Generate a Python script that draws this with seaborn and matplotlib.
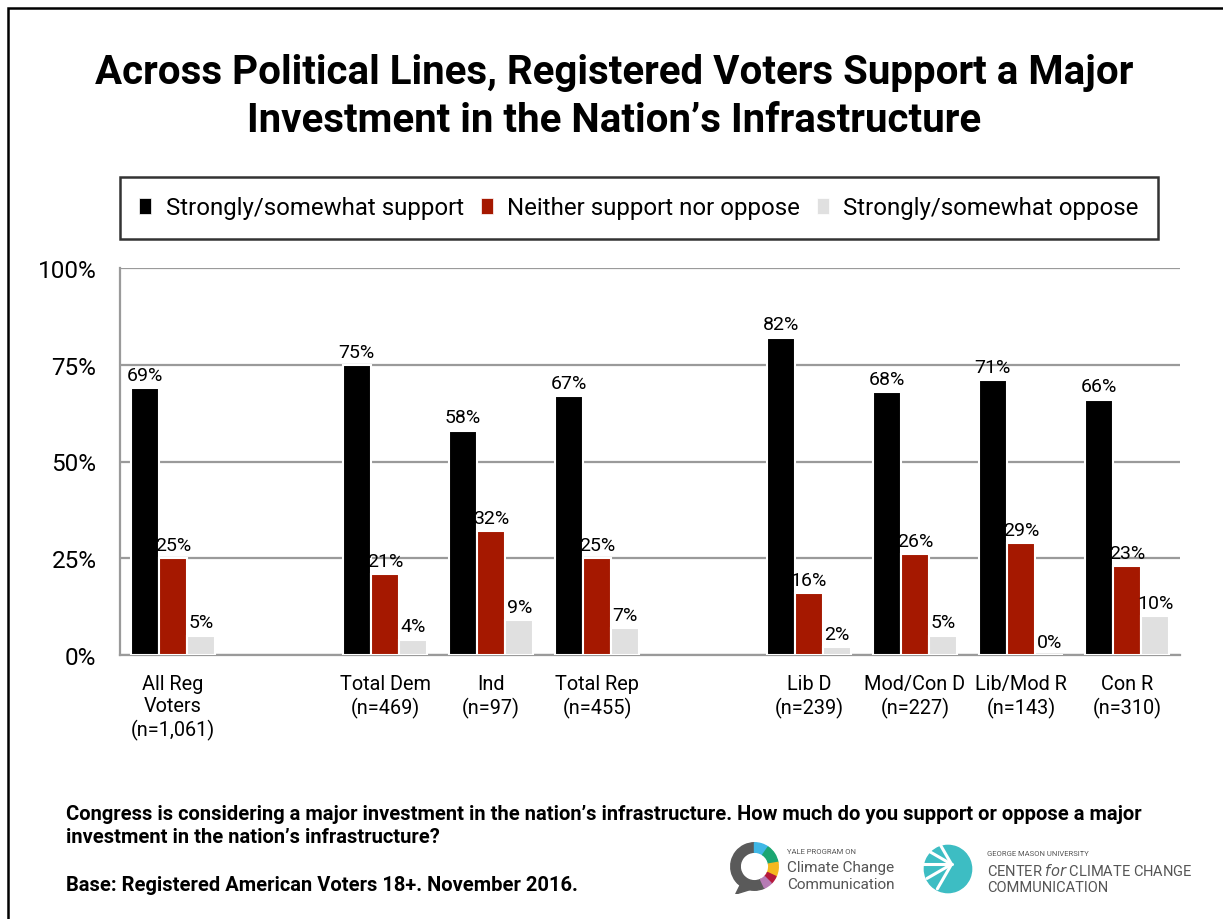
import numpy as np
import pandas as pd
import seaborn as sns
import matplotlib.pyplot as plt
from matplotlib.patches import Rectangle, Wedge, Polygon, Patch

groups = ["All Reg\nVoters\n(n=1,061)", "Total Dem\n(n=469)", "Ind\n(n=97)", "Total Rep\n(n=455)",
          "Lib D\n(n=239)", "Mod/Con D\n(n=227)", "Lib/Mod R\n(n=143)", "Con R\n(n=310)"]
slots = [groups[0], " ", groups[1], groups[2], groups[3], "  ", groups[4], groups[5], groups[6], groups[7]]
responses = ["Strongly/somewhat support", "Neither support nor oppose", "Strongly/somewhat oppose"]
support = [69, 75, 58, 67, 82, 68, 71, 66]
neither = [25, 21, 32, 25, 16, 26, 29, 23]
oppose = [5, 4, 9, 7, 2, 5, 0, 10]
colors = ["#000000", "#A51800", "#E0E0E0"]

df = pd.DataFrame({
    "group": groups * 3,
    "response": np.repeat(responses, len(groups)),
    "value": support + neither + oppose,
})

sns.set_style("white")
plt.rcParams["font.family"] = ["Roboto", "DejaVu Sans"]
plt.rcParams["text.color"] = "black"
plt.rcParams["xtick.color"] = "black"
plt.rcParams["ytick.color"] = "black"

W, H = 1223, 920
fig = plt.figure(figsize=(W / 100, H / 100), dpi=100)
ax = fig.add_axes([120 / W, 1 - 656 / H, 1060 / W, 387 / H])

sns.barplot(data=df, x="group", y="value", hue="response", order=slots, hue_order=responses,
            palette=colors, saturation=1, width=0.8, edgecolor="white", linewidth=1.5,
            legend=False, ax=ax, zorder=3)

for cont, vals in zip(ax.containers, [support, neither, oppose]):
    ax.bar_label(cont, labels=[f"{v}%" for v in vals], padding=3, fontsize=14, color="black")

grid_c = "#9A9A9A"
ax.set_ylim(0, 100)
ax.set_xlim(-0.5, 9.5)
ax.set_yticks([0, 25, 50, 75, 100])
ax.set_yticklabels(["0%", "25%", "50%", "75%", "100%"], fontsize=17.5)
ax.yaxis.grid(True, color=grid_c, linewidth=1.6, zorder=0)
ax.set_axisbelow(True)
ax.set_xticks(range(10))
ax.set_xticklabels(slots, fontsize=14.3, linespacing=1.2)
ax.set_xticks(np.arange(-0.5, 10, 1), minor=True)
ax.tick_params(axis="x", which="major", length=0, pad=14)
ax.tick_params(axis="x", which="minor", length=6, width=1.6, color=grid_c, direction="out")
ax.tick_params(axis="y", length=6, width=1.6, color=grid_c, labelcolor="black", direction="out", pad=11)
ax.set_xlabel("")
ax.set_ylabel("")
for s in ["top", "right"]:
    ax.spines[s].set_visible(False)
for s in ["left", "bottom"]:
    ax.spines[s].set_color(grid_c)
    ax.spines[s].set_linewidth(1.6)

# legend
handles = [Patch(facecolor=c, edgecolor="white", linewidth=0.5) for c in colors]
leg = fig.legend(handles, responses, loc="center", ncol=3, fontsize=17.3,
                 bbox_to_anchor=(120 / W, 1 - 242 / H, 1038 / W, 66 / H), mode="expand",
                 handlelength=0.5, handleheight=0.65, handletextpad=0.6, borderpad=0.8,
                 fancybox=False, frameon=True, borderaxespad=0)
leg.get_frame().set_edgecolor("black")
leg.get_frame().set_linewidth(1.8)

# title
fig.text(614 / W, 1 - 97 / H, "Across Political Lines, Registered Voters Support a Major\nInvestment in the Nation’s Infrastructure",
         ha="center", va="center", fontsize=29, fontweight="bold", linespacing=1.32)

# footnotes
fig.text(66 / W, 1 - 826 / H, "Congress is considering a major investment in the nation’s infrastructure. How much do you support or oppose a major\ninvestment in the nation’s infrastructure?",
         ha="left", va="center", fontsize=14.5, fontweight="bold", linespacing=1.25)
fig.text(66 / W, 1 - 886 / H, "Base: Registered American Voters 18+. November 2016.",
         ha="left", va="center", fontsize=14.5, fontweight="bold")

# outer frame
fig.add_artist(Rectangle((8 / W, -0.1), 1.2, 1.1 - 9 / H, transform=fig.transFigure,
                         fill=False, edgecolor="black", linewidth=1.8))

# logos (approximate)
lax = fig.add_axes([727 / W, 1 - 895 / H, 55 / W, 55 / H])
lax.set_xlim(-1.1, 1.1)
lax.set_ylim(-1.1, 1.1)
lax.set_aspect("equal")
lax.axis("off")
ring = [(55, 90, "#3FB7E6"), (10, 55, "#1BA672"), (-25, 10, "#F5B820"),
        (-45, -25, "#B5183C"), (-65, -45, "#B67BB5")]
lax.add_patch(Wedge((0, 0), 0.95, 90, 295, width=0.38, color="#5A5A5A"))
for a0, a1, c in ring:
    lax.add_patch(Wedge((0, 0), 0.95, a0, a1, width=0.38, color=c))
lax.add_patch(Polygon([[-0.55, -0.7], [-0.75, -1.1], [-0.1, -0.9]], color="#5A5A5A"))
fig.text(787 / W, 1 - 852 / H, "YALE PROGRAM ON", fontsize=5.5, color="#555555", va="center")
fig.text(787 / W, 1 - 868 / H, "Climate Change", fontsize=11, color="#555555", va="center")
fig.text(787 / W, 1 - 885 / H, "Communication", fontsize=11, color="#555555", va="center")

gax = fig.add_axes([922 / W, 1 - 896 / H, 52 / W, 52 / H])
gax.set_xlim(-1.1, 1.1)
gax.set_ylim(-1.1, 1.1)
gax.set_aspect("equal")
gax.axis("off")
gax.add_patch(Wedge((0, 0), 1.0, 0, 360, color="#3DBDC3"))
for ang in [120, 150, 180, 210, 240]:
    t = np.deg2rad(ang)
    gax.plot([0.15, 0.15 + 1.2 * np.cos(t)], [0.2, 0.2 + 1.2 * np.sin(t)], color="white", lw=2.2)
fig.text(987 / W, 1 - 854 / H, "GEORGE MASON UNIVERSITY", fontsize=5.5, color="#555555", va="center")
fig.text(987 / W, 1 - 871 / H, "CENTER $\\it{for}$ CLIMATE CHANGE", fontsize=10.5, color="#555555", va="center")
fig.text(987 / W, 1 - 888 / H, "COMMUNICATION", fontsize=10.5, color="#555555", va="center")

fig.savefig("out.png", dpi=100)
